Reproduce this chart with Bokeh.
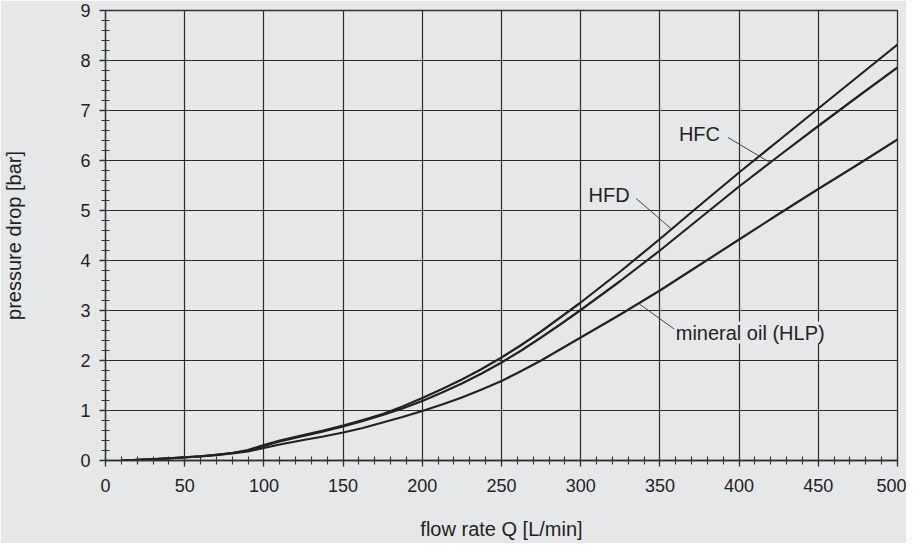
from bokeh.plotting import figure
from bokeh.models import FixedTicker, Range1d, Label
from bokeh.embed import file_html
from bokeh.resources import INLINE

# ---- data ----
flow = [10, 25, 40, 50, 60, 70, 80, 90, 100, 110, 125, 137.5, 150, 162.5, 175,
        187.5, 200, 212.5, 225, 237.5, 250, 262.5, 275, 287.5, 300, 325, 350,
        375, 400, 425, 450, 475, 500]
hfd = [0.0, 0.02, 0.045, 0.065, 0.085, 0.115, 0.15, 0.21, 0.31, 0.40, 0.51, 0.60,
       0.70, 0.81, 0.93, 1.08, 1.25, 1.43, 1.62, 1.83, 2.06, 2.31, 2.58, 2.87,
       3.16, 3.78, 4.43, 5.10, 5.76, 6.40, 7.04, 7.68, 8.32]
hfc = [0.0, 0.02, 0.045, 0.065, 0.085, 0.115, 0.15, 0.20, 0.29, 0.38, 0.49, 0.58,
       0.68, 0.79, 0.91, 1.04, 1.19, 1.36, 1.54, 1.74, 1.96, 2.20, 2.46, 2.73,
       3.01, 3.59, 4.20, 4.84, 5.48, 6.09, 6.69, 7.28, 7.86]
mineral = [0.0, 0.02, 0.04, 0.06, 0.08, 0.105, 0.14, 0.18, 0.25, 0.32, 0.41, 0.48,
           0.56, 0.65, 0.76, 0.87, 0.99, 1.12, 1.26, 1.42, 1.59, 1.79, 2.00, 2.23,
           2.46, 2.92, 3.40, 3.91, 4.42, 4.93, 5.43, 5.92, 6.42]

x_ticks = [0, 50, 100, 150, 200, 250, 300, 350, 400, 450, 500]
x_minor = [v for v in range(0, 501, 10)]
y_ticks = [0, 1, 2, 3, 4, 5, 6, 7, 8, 9]
y_minor = [round(i * 0.2, 1) for i in range(0, 46)]

labels = ["HFC", "HFD", "mineral oil (HLP)"]
label_x = [362, 305, 360]
label_y = [6.54, 5.32, 2.56]
leader_x0 = [393, 335, 359]
leader_y0 = [6.46, 5.24, 2.63]
leader_x1 = [420, 357, 337]
leader_y1 = [5.95, 4.64, 3.13]

BG = "#e6e7e9"
DARK = "#222222"
FONT = "Liberation Sans"

p = figure(frame_width=792, frame_height=450,
           x_range=Range1d(0, 500), y_range=Range1d(0, 9),
           output_backend="svg", toolbar_location=None,
           min_border_left=104, min_border_right=9,
           min_border_top=10, min_border_bottom=83)

p.background_fill_color = BG
p.border_fill_color = BG
p.outline_line_color = "#333333"
p.outline_line_width = 1.3

for ax, ticks, minor in ((p.xaxis[0], x_ticks, x_minor), (p.yaxis[0], y_ticks, y_minor)):
    ax.ticker = FixedTicker(ticks=ticks, minor_ticks=minor)
    ax.axis_line_color = "#333333"
    ax.axis_line_width = 1.3
    ax.major_tick_line_color = "#333333"
    ax.major_tick_line_width = 1.3
    ax.minor_tick_line_color = "#333333"
    ax.minor_tick_line_width = 1.1
    ax.major_tick_in = 0
    ax.major_tick_out = 6
    ax.minor_tick_in = 4
    ax.minor_tick_out = 4
    ax.major_label_text_font = FONT
    ax.major_label_text_font_size = "18px"
    ax.major_label_text_color = "#222222"
    ax.axis_label_text_font = FONT
    ax.axis_label_text_font_size = "20px"
    ax.axis_label_text_font_style = "normal"
    ax.axis_label_text_color = "#222222"

p.xaxis.axis_label = "flow rate Q [L/min]"
p.yaxis.axis_label = "pressure drop [bar]"
p.xaxis.major_label_standoff = 12
p.xaxis.axis_label_standoff = 23
p.yaxis.major_label_standoff = 9
p.yaxis.axis_label_standoff = 52

for g, ticks in ((p.xgrid[0], x_ticks), (p.ygrid[0], y_ticks)):
    g.ticker = FixedTicker(ticks=ticks)
    g.grid_line_color = "#2b2b2b"
    g.grid_line_width = 1.2

for series in (hfd, hfc, mineral):
    p.line(flow, series, line_color=DARK, line_width=2.2, line_join="round")

p.segment(x0=leader_x0, y0=leader_y0, x1=leader_x1, y1=leader_y1,
          line_color="#333333", line_width=0.9)

for t, lx, ly in zip(labels, label_x, label_y):
    p.add_layout(Label(x=lx, y=ly, text=t, text_font=FONT, text_font_size="20px",
                       text_color="#222222", text_baseline="middle", text_align="left",
                       background_fill_color=BG))

open("out.html", "w").write(file_html(p, INLINE))
